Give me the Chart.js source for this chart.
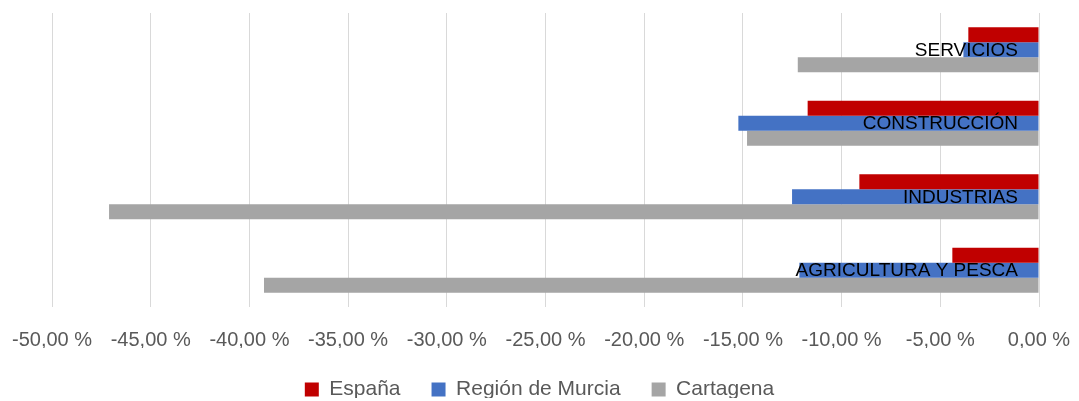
<!DOCTYPE html>
<html>
<head>
<meta charset="utf-8">
<script src="https://cdn.jsdelivr.net/npm/chart.js@4"></script>
<style>
  html, body { margin: 0; padding: 0; background: #fff; }
  #wrap { width: 1079px; height: 401px; }
</style>
</head>
<body>
<div id="wrap"><canvas id="myChart"></canvas></div>
<script>
// categories, top to bottom
let sectors = ['SERVICIOS', 'CONSTRUCCIÓN', 'INDUSTRIAS', 'AGRICULTURA Y PESCA'];

// variation in %
let espana = [-3.58, -11.72, -9.10, -4.39];
let murcia = [-3.83, -15.23, -12.51, -12.14];
let cartagena = [-12.22, -14.79, -47.11, -39.26];

let xTicks = [-50, -45, -40, -35, -30, -25, -20, -15, -10, -5, 0];

function fmtPct(v) {
  return v.toFixed(2).replace('.', ',') + ' %';
}

// category names sit inside the plot, right aligned next to the 0 axis, on top of the bars
const sectorLabels = {
  id: 'sectorLabels',
  afterDatasetsDraw(chart) {
    const ctx = chart.ctx;
    const xs = chart.scales.x;
    const ys = chart.scales.y;
    ctx.save();
    ctx.font = '19px "Liberation Sans"';
    ctx.fillStyle = '#000000';
    ctx.textAlign = 'right';
    ctx.textBaseline = 'middle';
    for (let i = 0; i < sectors.length; i++) {
      ctx.fillText(sectors[i], xs.getPixelForValue(0) - 21, ys.getPixelForValue(i) + 1);
    }
    ctx.restore();
  }
};

const data = {
  labels: sectors,
  datasets: [
    { label: 'España', data: espana, backgroundColor: '#C00000' },
    { label: 'Región de Murcia', data: murcia, backgroundColor: '#4472C4' },
    { label: 'Cartagena', data: cartagena, backgroundColor: '#A5A5A5' }
  ]
};

const config = {
  type: 'bar',
  data: data,
  plugins: [sectorLabels],
  options: {
    indexAxis: 'y',
    responsive: true,
    maintainAspectRatio: false,
    animation: false,
    layout: { padding: { top: 13, left: 0, right: 0, bottom: 3 } },
    datasets: {
      bar: { categoryPercentage: 0.61, barPercentage: 1.0 }
    },
    scales: {
      x: {
        min: -50,
        max: 0,
        afterBuildTicks: function (scale) {
          scale.ticks = xTicks.map(function (v) { return { value: v }; });
        },
        afterFit: function (scale) {
          scale.height = 41;
          scale.paddingLeft = 52;
          scale.paddingRight = 40;
        },
        grid: { color: '#D9D9D9', lineWidth: 1, drawTicks: false },
        border: { display: false },
        ticks: {
          color: '#595959',
          padding: 23,
          font: { family: 'Liberation Sans', size: 20, lineHeight: 1 },
          callback: function (v) { return fmtPct(v); }
        }
      },
      y: {
        display: false
      }
    },
    plugins: {
      legend: {
        position: 'bottom',
        maxHeight: 50,
        labels: {
          boxWidth: 14,
          boxHeight: 14,
          padding: 31,
          color: '#595959',
          font: { family: 'Liberation Sans', size: 21 }
        }
      },
      tooltip: { enabled: false }
    }
  }
};

const myChart = new Chart(document.getElementById('myChart'), config);
</script>
</body>
</html>
